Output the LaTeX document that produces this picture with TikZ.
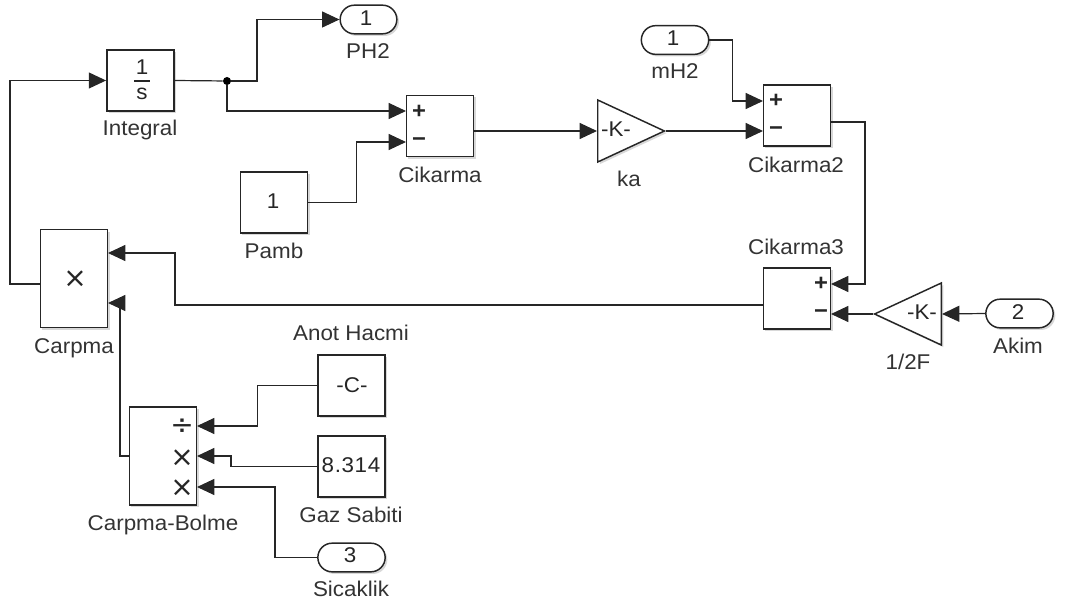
\documentclass[tikz,border=0pt]{standalone}
\usepackage{fontspec}
\setmainfont[FakeStretch=1.05]{Liberation Sans}
\newfontfamily\symfont{DejaVu Sans}
\usetikzlibrary{arrows.meta,shapes.geometric,shapes.misc,shadows}

\begin{document}
\begin{tikzpicture}[
  x=0.75pt, y=-0.75pt,
  sdw/.style={drop shadow={shadow xshift=1.6pt, shadow yshift=-1.6pt, fill=black!30}},
  blk/.style={draw=black!85, line width=1.1pt, fill=white, sdw, inner sep=0pt, minimum width=50.5pt, minimum height=46pt},
  tall/.style={blk, minimum height=73.5pt},
  port/.style={rounded rectangle, draw=black!85, line width=1.1pt, fill=white, sdw, inner sep=0pt, minimum width=50.5pt, minimum height=21.5pt},
  gain/.style={isosceles triangle, isosceles triangle stretches, draw=black!85, line width=1.1pt, fill=white, sdw, inner sep=0pt, minimum width=46.5pt, minimum height=50pt, anchor=lower side},
  sig/.style={draw=black!85, line width=0.9pt},
  arr/.style={sig, -{Triangle[length=13pt, width=12pt]}},
  dot/.style={circle, fill=black, inner sep=0pt, minimum size=6pt},
  lab/.style={font=\fontsize{16pt}{18pt}\selectfont, text=black!80, inner sep=0pt, anchor=base},
  txt/.style={font=\fontsize{16pt}{18pt}\selectfont, text=black!85, inner sep=0pt},
  sgn/.style={font=\fontsize{17pt}{18pt}\selectfont\bfseries, text=black!85, inner sep=0pt},
  mul/.style={font=\symfont\fontsize{21pt}{22pt}\selectfont, text=black!85, inner sep=0pt}
]
\useasboundingbox (0,0) rectangle (1070,606);

% Blocks
\node[blk] (intg) at (140.5,80.5) {};
\node[port, minimum width=42.5pt] (phout) at (368.5,19.5) {};
\node[blk] (cik) at (440,126) {};
\node[blk] (pamb) at (274,202.5) {};
\node[tall] (carp) at (74,278.5) {};
\node[gain] (ka) at (597,131) {};
\node[blk] (cikb) at (797,115.5) {};
\node[port] (mhin) at (675,40) {};
\node[blk] (cikc) at (797,298.5) {};
\node[gain, shape border rotate=180] (fgain) at (942,314) {};
\node[port] (akim) at (1019.5,313.5) {};
\node[tall] (carpb) at (163,456) {};
\node[blk] (anot) at (351.5,385.5) {};
\node[blk] (gaz) at (351.5,466.5) {};
\node[port] (sic) at (351.5,557.5) {};
\node[dot] (jn) at (227,81) {};

% Ports that sit off the block centres
\coordinate (cikp) at (406,111);
\coordinate (cikm) at (406,142);
\coordinate (cikbp) at (763,101);
\coordinate (cikbm) at (763,131);
\coordinate (cikbo) at (831,122);
\coordinate (cikcp) at (831,284);
\coordinate (cikcm) at (831,314);
\coordinate (cikco) at (763,305);
\coordinate (carpa) at (108,253);
\coordinate (carpc) at (108,303);
\coordinate (carpo) at (40,284);
\coordinate (divi) at (197,426);
\coordinate (divii) at (197,456);
\coordinate (diviii) at (197,487);

% Texts inside the blocks
\node[txt] (intgnum) at (142,67) {1};
\node[txt] (intgden) at (142,94) {s};
\draw[sig] (134,81) -- (150,81);
\node[txt] (phnum) at (366,18) {1};
\node[txt] (pambnum) at (273,201) {1};
\node[txt] (mhnum) at (673,38) {1};
\node[txt] (akimnum) at (1018,312) {2};
\node[txt] (sicnum) at (350,555) {3};
\node[txt] (kaval) at (616,129) {-K-};
\node[txt] (fval) at (922,312) {-K-};
\node[txt] (anotval) at (352,385) {-C-};
\node[txt] (gazval) at (351,465) {\addfontfeature{LetterSpace=3}8.314};
\node[sgn] (s1) at (419,112) {+};
\node[sgn] (s2) at (419,142) {−};
\node[sgn] (s3) at (776,101) {+};
\node[sgn] (s4) at (776,131) {−};
\node[sgn] (s5) at (821,284) {+};
\node[sgn] (s6) at (821,314) {−};
\node[mul] (m1) at (75,279) {×};
\node[mul] (m2) at (182,427) {÷};
\node[mul] (m3) at (182,458) {×};
\node[mul] (m4) at (182,488) {×};

% Labels
\node[lab] (intglab) at (140,136) {Integral};
\node[lab] (phlab) at (368,59) {PH2};
\node[lab] (ciklab) at (440,182) {Cikarma};
\node[lab] (pamblab) at (274,258) {Pamb};
\node[lab] (carplab) at (74,353) {Carpma};
\node[lab] (kalab) at (629,186) {ka};
\node[lab] (cikblab) at (796,172) {Cikarma2};
\node[lab] (mhlab) at (675,79) {mH2};
\node[lab] (cikclab) at (796,254) {Cikarma3};
\node[lab] (flab) at (908,369) {1/2F};
\node[lab] (akimlab) at (1018,353) {Akim};
\node[lab] (anotlab) at (351,340) {Anot Hacmi};
\node[lab] (gazlab) at (351,522) {Gaz Sabiti};
\node[lab] (carpblab) at (163,530) {Carpma-Bolme};
\node[lab] (siclab) at (351,596) {Sicaklik};

% Signals
\draw[sig] (intg.east) -- (jn);
\draw[arr] (jn) -- ++(30,0) |- (phout.west);
\draw[arr] (jn) |- (cikp);
\draw[arr] (pamb.east) -- ++(48,0) |- (cikm);
\draw[arr] (cik.east |- ka.lower side) -- (ka.lower side);
\draw[arr] (ka.apex) -- (cikbm);
\draw[arr] (mhin.east) -- ++(23,0) |- (cikbp);
\draw[arr] (cikbo) -- ++(34,0) |- (cikcp);
\draw[arr] (fgain.apex) -- (cikcm);
\draw[arr] (akim.west) -- (fgain.lower side);
\draw[arr] (cikco) -- (175,305) |- (carpa);
\draw[arr] (carpo) -- (10,284) |- (intg.west);
\draw[arr] (carpb.west) -- (120,456) |- (carpc);
\draw[arr] (anot.west) -- ++(-60,0) |- (divi);
\draw[arr] (gaz.west) -- (231,466.5) |- (divii);
\draw[arr] (sic.west) -- (275,557.5) |- (diviii);

\end{tikzpicture}
\end{document}
